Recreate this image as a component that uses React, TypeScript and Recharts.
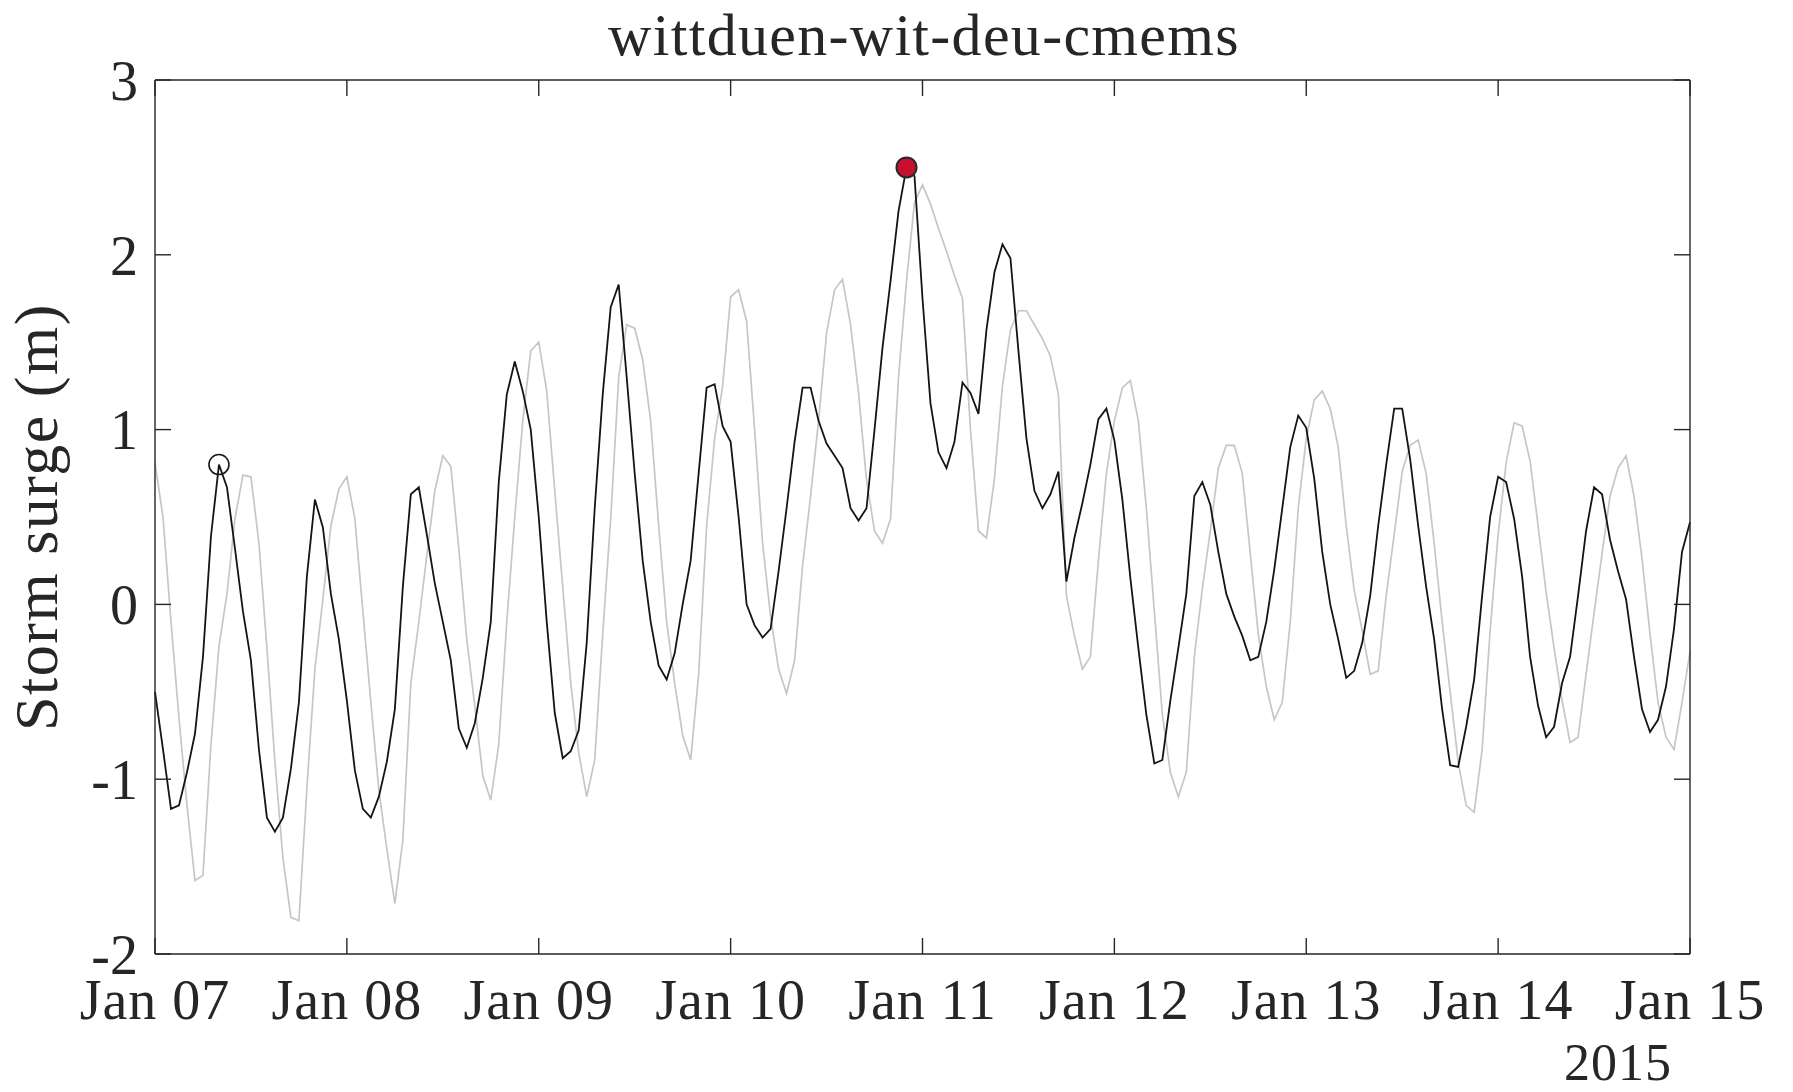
import { LineChart, Line, XAxis, YAxis, ReferenceDot } from "recharts";

const W = 1793;
const H = 1092;
const FONT = "'Liberation Serif', 'Times New Roman', serif";
const INK = "#262626";

const TITLE = "wittduen-wit-deu-cmems";
const Y_LABEL = "Storm surge (m)";
const YEAR_LABEL = "2015";

// hours since Jan 07 00:00
const DAY_TICKS = [0, 24, 48, 72, 96, 120, 144, 168, 192];
const DAY_LABELS = ["Jan 07", "Jan 08", "Jan 09", "Jan 10", "Jan 11", "Jan 12", "Jan 13", "Jan 14", "Jan 15"];
const Y_TICKS = [-2, -1, 0, 1, 2, 3];

// hourly storm surge (m), black curve
const SURGE_BLACK = [
  -0.5, -0.83, -1.17, -1.15, -0.96, -0.74, -0.3, 0.39, 0.8, 0.67, 0.32, -0.04,
  -0.32, -0.83, -1.22, -1.3, -1.22, -0.94, -0.56, 0.16, 0.6, 0.44, 0.06, -0.2,
  -0.55, -0.95, -1.17, -1.22, -1.1, -0.9, -0.6, 0.1, 0.63, 0.67, 0.4, 0.12,
  -0.1, -0.32, -0.71, -0.82, -0.68, -0.42, -0.1, 0.7, 1.2, 1.39, 1.22, 1.0,
  0.5, -0.1, -0.62, -0.88, -0.84, -0.72, -0.22, 0.55, 1.2, 1.7, 1.83, 1.3,
  0.75, 0.25, -0.1, -0.35, -0.43, -0.28, 0.0, 0.25, 0.75, 1.24, 1.26, 1.02,
  0.93, 0.5, 0.0, -0.12, -0.19, -0.14, 0.19, 0.55, 0.93, 1.24, 1.24, 1.05,
  0.92, 0.85, 0.78, 0.55, 0.48, 0.55, 1.0, 1.47, 1.85, 2.25, 2.5, 2.45,
  1.75, 1.15, 0.87, 0.78, 0.93, 1.27, 1.21, 1.09, 1.57, 1.9, 2.06, 1.98,
  1.45, 0.95, 0.65, 0.55, 0.63, 0.76, 0.13, 0.38, 0.58, 0.8, 1.06, 1.12,
  0.94, 0.6, 0.15, -0.25, -0.63, -0.91, -0.89, -0.55, -0.25, 0.06, 0.62, 0.7,
  0.57, 0.3, 0.06, -0.07, -0.18, -0.32, -0.3, -0.1, 0.2, 0.55, 0.9, 1.08,
  1.01, 0.72, 0.3, 0.0, -0.2, -0.42, -0.38, -0.22, 0.05, 0.45, 0.8, 1.12,
  1.12, 0.83, 0.45, 0.1, -0.2, -0.6, -0.92, -0.93, -0.7, -0.43, 0.05, 0.5,
  0.73, 0.7, 0.49, 0.16, -0.3, -0.58, -0.76, -0.7, -0.45, -0.3, 0.05, 0.42,
  0.67, 0.63, 0.37, 0.19, 0.03, -0.3, -0.6, -0.73, -0.66, -0.47, -0.14, 0.3,
  0.47,
];

// hourly storm surge (m), light grey curve
const SURGE_GREY = [
  0.81, 0.5, -0.1, -0.65, -1.15, -1.58, -1.55, -0.8, -0.24, 0.06, 0.49, 0.74,
  0.73, 0.35, -0.25, -0.9, -1.45, -1.79, -1.81, -1.05, -0.37, 0.03, 0.45, 0.66,
  0.73, 0.49, -0.04, -0.56, -1.06, -1.4, -1.71, -1.35, -0.45, -0.1, 0.28, 0.65,
  0.85, 0.79, 0.32, -0.2, -0.58, -0.98, -1.12, -0.8, -0.1, 0.5, 1.05, 1.45,
  1.5, 1.22, 0.65, 0.1, -0.45, -0.85, -1.1, -0.89, -0.17, 0.49, 1.3, 1.6,
  1.58, 1.4, 1.05, 0.45, -0.1, -0.45, -0.75, -0.89, -0.4, 0.45, 0.95, 1.25,
  1.76, 1.8, 1.62, 1.0, 0.35, -0.07, -0.37, -0.51, -0.32, 0.22, 0.62, 1.05,
  1.55, 1.8, 1.86, 1.6, 1.21, 0.71, 0.42, 0.35, 0.49, 1.3, 1.85, 2.3,
  2.4, 2.29, 2.15, 2.02, 1.88, 1.75, 1.0, 0.42, 0.38, 0.72, 1.25, 1.57,
  1.68, 1.68, 1.6, 1.52, 1.42, 1.2, 0.05, -0.18, -0.37, -0.3, 0.25, 0.75,
  1.05, 1.24, 1.28, 1.05, 0.55, -0.04, -0.63, -0.96, -1.1, -0.96, -0.3, 0.09,
  0.42, 0.78, 0.91, 0.91, 0.75, 0.29, -0.17, -0.47, -0.66, -0.56, -0.1, 0.55,
  0.95, 1.17, 1.22, 1.12, 0.9, 0.45, 0.08, -0.15, -0.4, -0.38, 0.05, 0.4,
  0.76, 0.91, 0.94, 0.75, 0.35, -0.1, -0.5, -0.9, -1.15, -1.19, -0.83, -0.15,
  0.4, 0.81, 1.04, 1.02, 0.82, 0.45, 0.07, -0.25, -0.55, -0.79, -0.76, -0.4,
  -0.05, 0.29, 0.62, 0.78, 0.85, 0.62, 0.26, -0.17, -0.56, -0.76, -0.83, -0.56,
  -0.27,
];

const MIN_MARK = { hour: 8, value: 0.8 };
const MAX_MARK = { hour: 94, value: 2.5 };

const data = SURGE_BLACK.map((v, i) => ({ hour: i, black: v, grey: SURGE_GREY[i] }));

const axisLine = { stroke: INK, strokeWidth: 1.4 };
const tickLine = { stroke: INK, strokeWidth: 1.4 };
const tickFont = { fill: INK, fontSize: 56, fontFamily: FONT };
const blank = () => "";

export default function App() {
  return (
    <div style={{ position: "absolute", left: 0, top: 0, width: W, height: H, background: "#fff" }}>
      <LineChart width={W} height={H} data={data} margin={{ top: 79, right: 102, bottom: 78, left: 65 }}>
        <XAxis
          xAxisId="b"
          type="number"
          dataKey="hour"
          domain={[0, 192]}
          ticks={DAY_TICKS}
          interval={0}
          tickFormatter={(v: number) => DAY_LABELS[DAY_TICKS.indexOf(v)]}
          height={60}
          tickSize={-16}
          tickMargin={41}
          axisLine={axisLine}
          tickLine={tickLine}
          tick={{ ...tickFont, letterSpacing: 1 }}
        />
        <XAxis
          xAxisId="t"
          orientation="top"
          type="number"
          dataKey="hour"
          domain={[0, 192]}
          ticks={DAY_TICKS}
          interval={0}
          height={1}
          tickSize={-16}
          axisLine={axisLine}
          tickLine={tickLine}
          tickFormatter={blank}
          tick={{ fill: "none", fontSize: 1 }}
        />
        <YAxis
          yAxisId="l"
          type="number"
          domain={[-2, 3]}
          ticks={Y_TICKS}
          interval={0}
          width={90}
          tickSize={-16}
          tickMargin={33}
          axisLine={axisLine}
          tickLine={tickLine}
          tick={tickFont}
        />
        <YAxis
          yAxisId="r"
          orientation="right"
          type="number"
          domain={[-2, 3]}
          ticks={Y_TICKS}
          interval={0}
          width={1}
          tickSize={-16}
          axisLine={axisLine}
          tickLine={tickLine}
          tickFormatter={blank}
          tick={{ fill: "none", fontSize: 1 }}
        />
        <Line
          xAxisId="t"
          yAxisId="r"
          type="linear"
          dataKey="grey"
          stroke="#c6c6c6"
          strokeWidth={1.7}
          dot={false}
          activeDot={false}
          isAnimationActive={false}
        />
        <Line
          xAxisId="b"
          yAxisId="l"
          type="linear"
          dataKey="black"
          stroke="#141414"
          strokeWidth={1.8}
          dot={false}
          activeDot={false}
          isAnimationActive={false}
        />
        <ReferenceDot
          xAxisId="b"
          yAxisId="l"
          x={MIN_MARK.hour}
          y={MIN_MARK.value}
          r={10}
          fill="none"
          stroke="#1a1a1a"
          strokeWidth={1.6}
        />
        <ReferenceDot
          xAxisId="b"
          yAxisId="l"
          x={MAX_MARK.hour}
          y={MAX_MARK.value}
          r={10}
          fill="#c8102e"
          stroke="#2a2a2a"
          strokeWidth={2}
        />
      </LineChart>
      <svg
        width={W}
        height={H}
        style={{ position: "absolute", left: 0, top: 0, pointerEvents: "none" }}
        fontFamily={FONT}
        fill={INK}
      >
        <text x={924} y={55} fontSize={60} textAnchor="middle" letterSpacing={1.3}>
          {TITLE}
        </text>
        <text
          x={57}
          y={517}
          fontSize={62}
          textAnchor="middle"
          letterSpacing={1.5}
          transform="rotate(-90 57 517)"
        >
          {Y_LABEL}
        </text>
        <text x={1672} y={1080} fontSize={52} textAnchor="end" letterSpacing={1}>
          {YEAR_LABEL}
        </text>
      </svg>
    </div>
  );
}
